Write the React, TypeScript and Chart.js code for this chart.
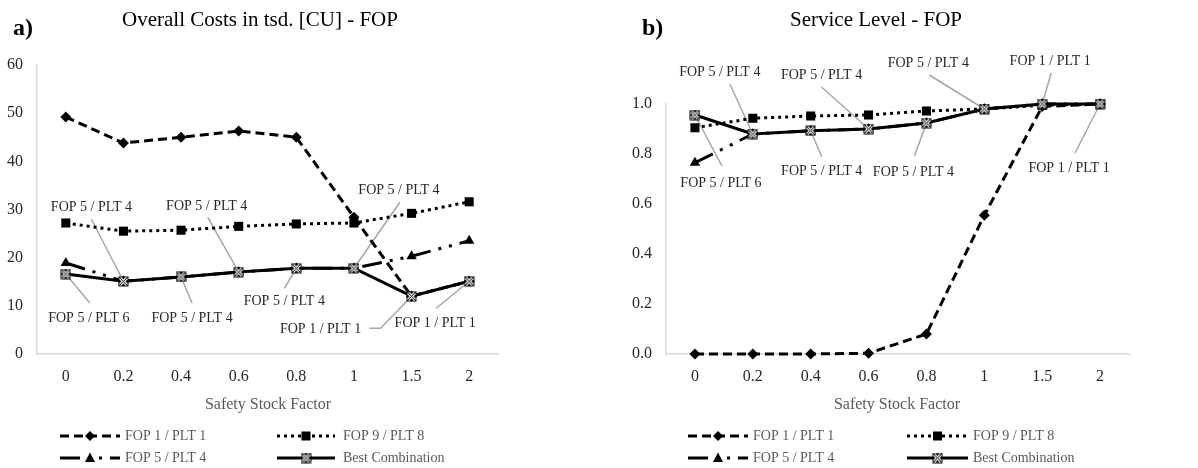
import React, { useEffect, useRef } from "react";
import { Chart, registerables } from "chart.js";

Chart.register(...registerables);

// ---------------- DATA ----------------
const CATEGORIES = ["0", "0.2", "0.4", "0.6", "0.8", "1", "1.5", "2"];
const SERIES_NAMES = ["FOP 1 / PLT 1", "FOP 9 / PLT 8", "FOP 5 / PLT 4", "Best Combination"];

const COST_FOP1 = [49.2, 43.8, 45.0, 46.3, 45.0, 28.4, 12.0, 15.1];
const COST_FOP9 = [27.2, 25.5, 25.7, 26.5, 27.0, 27.2, 29.2, 31.6];
const COST_FOP5 = [18.9, 15.1, 16.0, 17.0, 17.8, 17.8, 20.3, 23.5];
const COST_BEST = [16.6, 15.1, 16.0, 17.0, 17.8, 17.8, 12.0, 15.1];
const COST_BEST_LABELS = [
  "FOP 5 / PLT 6", "FOP 5 / PLT 4", "FOP 5 / PLT 4", "FOP 5 / PLT 4",
  "FOP 5 / PLT 4", "FOP 5 / PLT 4", "FOP 1 / PLT 1", "FOP 1 / PLT 1",
];
const COST_Y_TICKS = { min: 0, max: 60, step: 10 };

const SL_FOP1 = [0.0, 0.0, 0.0, 0.003, 0.08, 0.555, 0.99, 1.0];
const SL_FOP9 = [0.905, 0.943, 0.952, 0.956, 0.972, 0.98, 0.995, 1.0];
const SL_FOP5 = [0.765, 0.88, 0.893, 0.9, 0.924, 0.98, 1.0, 1.0];
const SL_BEST = [0.956, 0.88, 0.893, 0.9, 0.924, 0.98, 1.0, 1.0];
const SL_BEST_LABELS = [
  "FOP 5 / PLT 6", "FOP 5 / PLT 4", "FOP 5 / PLT 4", "FOP 5 / PLT 4",
  "FOP 5 / PLT 4", "FOP 5 / PLT 4", "FOP 1 / PLT 1", "FOP 1 / PLT 1",
];
const SL_Y_TICKS = { min: 0, max: 1, step: 0.2 };

// ---------------- LAYOUT / STYLE ----------------
const FONT = '"Liberation Serif", "Times New Roman", serif';

// label offsets relative to the data point: text centre and leader-line path
const COST_LABEL_POS = [
  { t: [23, 44], p: [[24, 29]] },
  { t: [-32, -74], p: [[-32, -62]] },
  { t: [11, 41], p: [[11, 26]] },
  { t: [-32, -66], p: [[-31, -55]] },
  { t: [-12, 33], p: [[-12, 20]] },
  { t: [45, -78], p: [[46, -66]] },
  { t: [-91, 33], p: [[-31, 32], [-42, 32]] },
  { t: [-34, 42], p: [[-33, 27]] },
];
const SL_LABEL_POS = [
  { t: [26, 68], p: [[27, 51]] },
  { t: [-33, -62], p: [[-23, -50]] },
  { t: [11, 41], p: [[11, 26]] },
  { t: [-47, -54], p: [[-47, -42]] },
  { t: [-13, 49], p: [[-12, 33]] },
  { t: [-56, -46], p: [[-55, -34]] },
  { t: [8, -43], p: [[9, -31]] },
  { t: [-31, 64], p: [[-25, 49]] },
];

const DASHES = [[9, 5], [3, 4], [20, 8, 3, 8, 3, 8], []];
const STYLES = ["rectRot", "rect", "triangle", "xbox"];

function makeXBox(): HTMLCanvasElement {
  const s = 11;
  const c = document.createElement("canvas");
  c.width = s;
  c.height = s;
  const g = c.getContext("2d")!;
  g.fillStyle = "#000";
  g.fillRect(0.5, 0.5, s - 1, s - 1);
  g.beginPath();
  g.moveTo(2, 2);
  g.lineTo(s - 2, s - 2);
  g.moveTo(s - 2, 2);
  g.lineTo(2, s - 2);
  g.strokeStyle = "#fff";
  g.lineWidth = 3;
  g.stroke();
  g.strokeStyle = "#000";
  g.lineWidth = 1;
  g.stroke();
  return c;
}

function drawMarker(ctx: CanvasRenderingContext2D, style: string, x: number, y: number, img: HTMLCanvasElement) {
  ctx.save();
  ctx.fillStyle = "#000";
  ctx.beginPath();
  if (style === "rectRot") {
    const r = 5;
    ctx.moveTo(x, y - r);
    ctx.lineTo(x + r, y);
    ctx.lineTo(x, y + r);
    ctx.lineTo(x - r, y);
    ctx.closePath();
    ctx.fill();
  } else if (style === "rect") {
    ctx.rect(x - 4.5, y - 4.5, 9, 9);
    ctx.fill();
  } else if (style === "triangle") {
    ctx.moveTo(x, y - 5.5);
    ctx.lineTo(x + 5, y + 4);
    ctx.lineTo(x - 5, y + 4);
    ctx.closePath();
    ctx.fill();
  } else {
    ctx.drawImage(img, x - 5.5, y - 5.5);
  }
  ctx.restore();
}

type Spec = {
  letter: string;
  title: string;
  titleX: number;
  letterX: number;
  axisTitleX: number;
  series: number[][];
  labels: string[];
  labelPos: { t: number[]; p: number[][] }[];
  yTicks: { min: number; max: number; step: number };
  decimals: number;
  padding: { left: number; right: number; top: number };
  legendCols: { lineX0: number; lineX1: number; textX: number }[];
};

function buildChart(canvas: HTMLCanvasElement, spec: Spec): Chart {
  const xbox = makeXBox();
  const datasets = spec.series.map((d, i) => ({
    label: SERIES_NAMES[i],
    data: d,
    borderColor: "#000",
    backgroundColor: "#000",
    borderWidth: 3,
    borderDash: DASHES[i],
    borderCapStyle: "butt" as const,
    pointStyle: STYLES[i] === "xbox" ? xbox : STYLES[i],
    pointRadius: STYLES[i] === "rect" ? 6.4 : STYLES[i] === "triangle" ? 6 : 5.5,
    pointBorderWidth: 0,
    pointBackgroundColor: "#000",
    pointBorderColor: "#000",
    order: 3 - i,
    clip: false as any,
    tension: 0,
  }));

  const bestIdx = 3;
  const plugin = {
    id: "extras" + spec.letter,
    beforeDatasetsDraw(chart: any) {
      const ctx: CanvasRenderingContext2D = chart.ctx;
      const meta = chart.getDatasetMeta(bestIdx);
      ctx.save();
      ctx.strokeStyle = "#a6a6a6";
      ctx.lineWidth = 1.5;
      meta.data.forEach((pt: any, i: number) => {
        const pos = spec.labelPos[i];
        if (!pos) return;
        ctx.beginPath();
        ctx.moveTo(pt.x, pt.y);
        pos.p.forEach((q) => ctx.lineTo(pt.x + q[0], pt.y + q[1]));
        ctx.stroke();
      });
      ctx.restore();
    },
    afterDatasetsDraw(chart: any) {
      const ctx: CanvasRenderingContext2D = chart.ctx;
      const meta = chart.getDatasetMeta(bestIdx);
      ctx.save();
      ctx.fillStyle = "#262626";
      ctx.font = `14px ${FONT}`;
      ctx.textAlign = "center";
      ctx.textBaseline = "middle";
      meta.data.forEach((pt: any, i: number) => {
        const pos = spec.labelPos[i];
        if (!pos) return;
        ctx.fillText(spec.labels[i], pt.x + pos.t[0], pt.y + pos.t[1]);
      });
      ctx.restore();
    },
    afterDraw(chart: any) {
      const ctx: CanvasRenderingContext2D = chart.ctx;
      ctx.save();
      // panel letter
      ctx.fillStyle = "#000";
      ctx.font = `bold 24px ${FONT}`;
      ctx.textAlign = "left";
      ctx.textBaseline = "middle";
      ctx.fillText(spec.letter, spec.letterX, 29);
      // title
      ctx.font = `21px ${FONT}`;
      ctx.textAlign = "center";
      ctx.fillText(spec.title, spec.titleX, 20);
      // axis title
      ctx.fillStyle = "#595959";
      ctx.font = `16px ${FONT}`;
      ctx.fillText("Safety Stock Factor", spec.axisTitleX, 405);
      // legend
      const rows = [436, 458];
      const order = [
        [0, 0, 0],
        [1, 0, 1],
        [2, 1, 0],
        [3, 1, 1],
      ];
      order.forEach(([si, r, c]) => {
        const col = spec.legendCols[c];
        const y = rows[r];
        ctx.save();
        ctx.strokeStyle = "#000";
        ctx.lineWidth = 3;
        ctx.lineCap = "butt";
        ctx.setLineDash(DASHES[si]);
        ctx.beginPath();
        ctx.moveTo(col.lineX0, y);
        ctx.lineTo(col.lineX1, y);
        ctx.stroke();
        ctx.restore();
        drawMarker(ctx, STYLES[si], (col.lineX0 + col.lineX1) / 2, y, xbox);
        ctx.fillStyle = "#595959";
        ctx.font = `14px ${FONT}`;
        ctx.textAlign = "left";
        ctx.textBaseline = "middle";
        ctx.fillText(SERIES_NAMES[si], col.textX, y);
      });
      ctx.restore();
    },
  };

  return new Chart(canvas, {
    type: "line",
    data: { labels: CATEGORIES, datasets: datasets as any },
    options: {
      animation: false,
      responsive: false,
      devicePixelRatio: 1,
      layout: { padding: { left: spec.padding.left, right: spec.padding.right, top: spec.padding.top, bottom: 0 } },
      plugins: { legend: { display: false }, tooltip: { enabled: false }, title: { display: false } },
      scales: {
        x: {
          type: "category",
          offset: true,
          grid: { display: false, drawTicks: false },
          border: { display: true, color: "#d9d9d9", width: 1.5 },
          ticks: { color: "#262626", font: { family: FONT, size: 16 }, padding: 13, maxRotation: 0, autoSkip: false },
          afterFit: (s: any) => {
            s.height = 114;
          },
        },
        y: {
          min: spec.yTicks.min,
          max: spec.yTicks.max,
          grid: { display: false, drawTicks: false },
          border: { display: true, color: "#d9d9d9", width: 1.5 },
          ticks: {
            stepSize: spec.yTicks.step,
            color: "#262626",
            font: { family: FONT, size: 16 },
            padding: 14,
            callback: (v: any) => Number(v).toFixed(spec.decimals),
          },
          afterFit: (s: any) => {
            s.width = 37;
          },
        },
      },
    },
    plugins: [plugin],
  });
}

const SPEC_A: Spec = {
  letter: "a)",
  title: "Overall Costs in tsd. [CU] - FOP",
  titleX: 260,
  letterX: 13,
  axisTitleX: 268,
  series: [COST_FOP1, COST_FOP9, COST_FOP5, COST_BEST],
  labels: COST_BEST_LABELS,
  labelPos: COST_LABEL_POS,
  yTicks: COST_Y_TICKS,
  decimals: 0,
  padding: { left: 0, right: 101, top: 65 },
  legendCols: [
    { lineX0: 60, lineX1: 120, textX: 125 },
    { lineX0: 277, lineX1: 335, textX: 343 },
  ],
};

const SPEC_B: Spec = {
  letter: "b)",
  title: "Service Level - FOP",
  titleX: 277,
  letterX: 43,
  axisTitleX: 298,
  series: [SL_FOP1, SL_FOP9, SL_FOP5, SL_BEST],
  labels: SL_BEST_LABELS,
  labelPos: SL_LABEL_POS,
  yTicks: SL_Y_TICKS,
  decimals: 1,
  padding: { left: 30, right: 69, top: 104 },
  legendCols: [
    { lineX0: 89, lineX1: 149, textX: 154 },
    { lineX0: 308, lineX1: 369, textX: 374 },
  ],
};

function Panel({ spec, left }: { spec: Spec; left: number }) {
  const ref = useRef<HTMLCanvasElement | null>(null);
  useEffect(() => {
    if (!ref.current) return;
    const chart = buildChart(ref.current, spec);
    return () => chart.destroy();
  }, [spec]);
  return (
    <canvas
      ref={ref}
      width={599}
      height={468}
      style={{ position: "absolute", left, top: 0, width: 599, height: 468 }}
    />
  );
}

export default function App() {
  return (
    <div style={{ position: "fixed", left: 0, top: 0, width: 1198, height: 468, background: "#fff" }}>
      <Panel spec={SPEC_A} left={0} />
      <Panel spec={SPEC_B} left={599} />
    </div>
  );
}
